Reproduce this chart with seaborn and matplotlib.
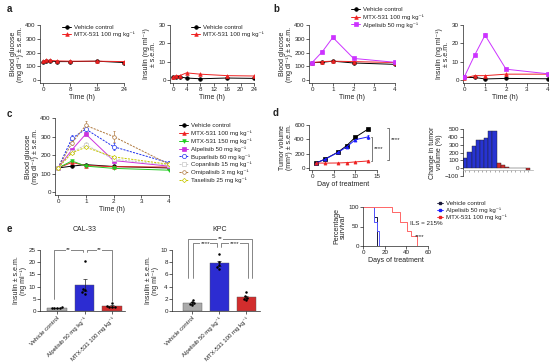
import numpy as np
import pandas as pd
import matplotlib
matplotlib.use("Agg")
import matplotlib.pyplot as plt
import seaborn as sns
from matplotlib.lines import Line2D

# ---------------- data ----------------
lab_vehicle = "Vehicle control"
lab_mtx100 = "MTX-531 100 mg kg⁻¹"
lab_mtx150 = "MTX-531 150 mg kg⁻¹"
lab_alpelisib = "Alpelisib 50 mg kg⁻¹"
lab_buparlisib = "Buparlisib 60 mg kg⁻¹"
lab_copanlisib = "Copanlisib 15 mg kg⁻¹"
lab_omipalisib = "Omipalisib 3 mg kg⁻¹"
lab_taselisib = "Taselisib 25 mg kg⁻¹"

a_time = [0, 1, 2, 4, 8, 16, 24]
a_glu_vehicle = [135, 140, 140, 135, 135, 138, 128]
a_glu_mtx = [138, 145, 145, 140, 138, 138, 135]
a_ins_vehicle = [1.5, 2.0, 1.8, 1.2, 0.8, 1.2, 1.0]
a_ins_mtx = [1.8, 2.5, 2.5, 4.0, 3.3, 2.5, 2.3]

b_time = [0, 0.5, 1, 2, 4]
b_glu_vehicle = [128, 130, 138, 125, 115]
b_glu_mtx = [128, 135, 138, 135, 128]
b_glu_alpelisib = [128, 208, 310, 158, 130]
b_glu_alpelisib_sem = [4, 8, 8, 6, 5]
b_ins_vehicle = [1.5, 1.5, 0.7, 1.0, 0.8]
b_ins_mtx = [1.2, 2.5, 2.5, 3.3, 3.3]
b_ins_alpelisib = [1.5, 13.5, 24.5, 6.0, 3.5]
b_ins_alpelisib_sem = [0.3, 0.6, 1.0, 0.5, 0.3]

c_time = [0, 0.5, 1, 2, 4]
c_vehicle = [130, 140, 148, 138, 130]
c_mtx100 = [130, 160, 143, 137, 135]
c_mtx150 = [130, 168, 140, 128, 118]
c_alpelisib = [130, 228, 313, 170, 140]
c_buparlisib = [130, 290, 340, 245, 158]
c_copanlisib = [130, 215, 255, 178, 145]
c_omipalisib = [130, 265, 360, 300, 150]
c_taselisib = [130, 212, 242, 190, 150]
c_buparlisib_sem = [5, 20, 15, 18, 8]
c_omipalisib_sem = [5, 10, 25, 30, 8]
c_copanlisib_sem = [5, 8, 15, 10, 5]

d_day = [1, 3, 6, 8, 10, 13]
d_vehicle = [70, 125, 222, 312, 430, 545]
d_alpelisib = [70, 122, 218, 295, 395, 435]
d_mtx = [70, 68, 70, 75, 85, 98]
d_vehicle_sem = [5, 8, 10, 15, 20, 12]
d_alpelisib_sem = [5, 8, 10, 15, 25, 30]
d_mtx_sem = [3, 3, 3, 4, 5, 8]

wf_values = [130, 210, 285, 355, 355, 385, 480, 480, 70, 45, 20, 2, 2, 1, 1, -20]
wf_group = ["Alpelisib"] * 8 + ["MTX-531"] * 8

surv_vehicle_day = [0, 10, 13]
surv_vehicle_pct = [100, 75, 0]
surv_alpelisib_day = [0, 10, 12.5, 15]
surv_alpelisib_pct = [100, 62.5, 37.5, 0]
surv_mtx_day = [0, 27, 34, 41, 44, 50]
surv_mtx_pct = [100, 87.5, 62.5, 37.5, 25, 0]

e_groups = [lab_vehicle, lab_alpelisib, lab_mtx100]
cal_means = [1.3, 10.8, 2.0]
cal_sem = [0.1, 2.4, 0.3]
cal_dots_vehicle = [1.1, 1.3, 1.4, 1.2, 1.5]
cal_dots_alpelisib = [20.3, 9.2, 8.5, 7.6, 7.0]
cal_dots_mtx = [3.3, 2.0, 1.8, 1.6, 1.5]
kpc_means = [1.3, 7.8, 2.3]
kpc_sem = [0.15, 0.4, 0.2]
kpc_dots_vehicle = [1.8, 1.5, 1.3, 1.1, 1.0]
kpc_dots_alpelisib = [9.4, 8.0, 7.6, 7.2, 6.9]
kpc_dots_mtx = [3.1, 2.5, 2.2, 2.0, 1.8]

# ---------------- style ----------------
sns.set_theme(style="ticks")
plt.rcParams.update({
    "font.family": ["Liberation Sans", "DejaVu Sans"],
    "mathtext.default": "regular",
    "font.size": 4.5, "axes.labelsize": 5, "xtick.labelsize": 4.5,
    "ytick.labelsize": 4.5, "legend.fontsize": 4.4,
    "axes.linewidth": 0.5, "xtick.major.width": 0.5, "ytick.major.width": 0.5,
    "xtick.major.size": 2, "ytick.major.size": 2,
    "xtick.major.pad": 1, "ytick.major.pad": 1, "axes.labelpad": 1.0,
    "text.color": "#222222", "axes.edgecolor": "#222222",
    "axes.labelcolor": "#222222", "xtick.color": "#222222", "ytick.color": "#222222",
})

W, H = 554, 364
fig = plt.figure(figsize=(W / 100, H / 100), dpi=100)


def axpx(x0, y0, x1, y1):
    ax = fig.add_axes([x0 / W, 1 - y1 / H, (x1 - x0) / W, (y1 - y0) / H])
    ax.set_facecolor("none")
    sns.despine(ax=ax)
    return ax


def line(ax, x, y, color, marker, label, ls="-", open_=False, sem=None, ms=2.6):
    sns.lineplot(x=x, y=y, color=color, marker=marker, markersize=ms,
                 linewidth=0.7, linestyle=ls,
                 markerfacecolor="white" if open_ else color,
                 markeredgecolor=color, markeredgewidth=0.5,
                 label=label, ax=ax, zorder=3)
    if sem is not None:
        ax.errorbar(x, y, yerr=sem, fmt="none", ecolor=color, elinewidth=0.5,
                    capsize=1, capthick=0.5, zorder=2)


def legend(ax, xpx, ypx, handles=None, spacing=0.25, hl=1.5):
    h, l = ax.get_legend_handles_labels()
    if handles is not None:
        h = handles
    ax.legend(h, l, loc="upper left", bbox_to_anchor=(xpx / W, 1 - ypx / H),
              bbox_transform=fig.transFigure, frameon=False, handlelength=hl,
              handletextpad=0.5, labelspacing=spacing, borderaxespad=0, borderpad=0)


def nolegend(ax):
    if ax.get_legend() is not None:
        ax.get_legend().remove()


def panel(x, y, s):
    fig.text(x / W, 1 - y / H, s, fontsize=7, fontweight="bold", va="center", ha="left")


def ylab(ax, text):
    ax.set_ylabel(text, linespacing=1.0)


glu_label = "Blood glucose\n(mg dl⁻¹) ± s.e.m."
ins_label = "Insulin (ng ml⁻¹)\n± s.e.m."

# ---------------- a ----------------
panel(7, 9, "a")
ax = axpx(40, 25, 124, 83)
line(ax, a_time, a_glu_vehicle, "black", "o", lab_vehicle)
line(ax, a_time, a_glu_mtx, "#ee2222", "^", lab_mtx100)
ax.set(xlim=(-0.9, 24), ylim=(-20, 400), xticks=[0, 8, 16, 24], yticks=[0, 100, 200, 300, 400],
       xlabel="Time (h)")
ylab(ax, glu_label)
legend(ax, 62, 25)

ax = axpx(170, 25, 254, 83)
line(ax, a_time, a_ins_vehicle, "black", "o", lab_vehicle)
line(ax, a_time, a_ins_mtx, "#ee2222", "^", lab_mtx100)
ax.set(xlim=(-0.9, 24), ylim=(-1.5, 30), xticks=[0, 4, 8, 12, 16, 20, 24], yticks=[0, 10, 20, 30],
       xlabel="Time (h)")
ylab(ax, ins_label)
legend(ax, 191, 25)

# ---------------- b ----------------
panel(273, 9, "b")
ax = axpx(309, 25, 395, 83)
line(ax, b_time, b_glu_vehicle, "black", "o", lab_vehicle)
line(ax, b_time, b_glu_mtx, "#ee2222", "^", lab_mtx100)
line(ax, b_time, b_glu_alpelisib, "#cc33ff", "s", lab_alpelisib, sem=b_glu_alpelisib_sem, ms=2.2)
ax.set(xlim=(-0.15, 4), ylim=(-20, 400), xticks=[0, 1, 2, 3, 4], yticks=[0, 100, 200, 300, 400],
       xlabel="Time (h)")
ylab(ax, glu_label)
legend(ax, 351, 7, spacing=0.35)

ax = axpx(463, 25, 548, 83)
line(ax, b_time, b_ins_vehicle, "black", "o", lab_vehicle)
line(ax, b_time, b_ins_mtx, "#ee2222", "^", lab_mtx100)
line(ax, b_time, b_ins_alpelisib, "#cc33ff", "s", lab_alpelisib, sem=b_ins_alpelisib_sem, ms=2.2)
ax.set(xlim=(-0.05, 4), ylim=(-1.5, 30), xticks=[0, 1, 2, 3, 4], yticks=[0, 10, 20, 30],
       xlabel="Time (h)")
ylab(ax, ins_label)
nolegend(ax)

# ---------------- c ----------------
panel(7, 114, "c")
ax = axpx(55, 118, 169, 195)
dash = (0, (2.2, 1.2))
line(ax, c_time, c_vehicle, "black", "o", lab_vehicle)
line(ax, c_time, c_mtx100, "#ee2222", "^", lab_mtx100)
line(ax, c_time, c_mtx150, "#22cc22", "v", lab_mtx150)
line(ax, c_time, c_alpelisib, "#cc33dd", "s", lab_alpelisib, ms=2.2)
line(ax, c_time, c_buparlisib, "#2233ee", "o", lab_buparlisib, ls=dash, open_=True, sem=c_buparlisib_sem, ms=3)
line(ax, c_time, c_copanlisib, "#c8c8c8", "s", lab_copanlisib, ls=dash, open_=True, sem=c_copanlisib_sem)
line(ax, c_time, c_omipalisib, "#b07a40", "o", lab_omipalisib, ls=dash, open_=True, sem=c_omipalisib_sem)
line(ax, c_time, c_taselisib, "#c8c800", "D", lab_taselisib, ls=dash, open_=True, ms=2.2)
ax.set(xlim=(-0.11, 4), ylim=(-16, 400), xticks=[0, 1, 2, 3, 4], yticks=[0, 100, 200, 300, 400],
       xlabel="Time (h)")
ylab(ax, glu_label)
legend(ax, 179, 123, spacing=0.38)

# ---------------- d ----------------
panel(273, 113, "d")
ax = axpx(309, 125, 377, 170)
line(ax, d_day, d_vehicle, "black", "s", lab_vehicle, sem=d_vehicle_sem, ms=2.2)
line(ax, d_day, d_alpelisib, "#1a1aff", "^", lab_alpelisib, sem=d_alpelisib_sem, ms=2.2)
line(ax, d_day, d_mtx, "#ee2222", "^", lab_mtx100, sem=d_mtx_sem, ms=2.2)
nolegend(ax)
ax.set(xlim=(-0.7, 15), ylim=(-28, 600), xticks=[0, 5, 10, 15], yticks=[0, 200, 400, 600],
       xlabel="Day of treatment")
ylab(ax, "Tumor volume\n(mm³) ± s.e.m.")
for (bx, y0, y1, ty) in [(13.9, 98, 435, 265), (17.8, 110, 555, 400)]:
    ax.plot([bx - 0.4, bx, bx, bx - 0.4], [y0, y0, y1, y1], color="#444444", lw=0.5, clip_on=False)
    ax.text(bx + 0.3, ty, "****", fontsize=4.5, va="center", ha="left")

ax = axpx(463, 129, 533, 176)
sns.barplot(x=list(range(len(wf_values))), y=wf_values, hue=wf_group,
            palette={"Alpelisib": "#0a1aee", "MTX-531": "#ee1111"}, dodge=False,
            width=1.0, edgecolor="#222222", linewidth=0.3, legend=False, ax=ax)
ax.set(xlim=(-0.55, 16.2), ylim=(-100, 500), yticks=[-100, 0, 100, 200, 300, 400, 500])
ylab(ax, "Change in tumor\nvolume (%)")
ax.spines["bottom"].set_position(("data", -25))
ax.spines["bottom"].set_color("#aaaaaa")
ax.tick_params(axis="x", labelbottom=False, length=1.2, color="#888888")

ax = axpx(363, 207, 428, 246)
sns.lineplot(x=surv_vehicle_day, y=surv_vehicle_pct, color="#1a1a3a", linewidth=0.7,
             drawstyle="steps-post", label=lab_vehicle, ax=ax)
sns.lineplot(x=surv_alpelisib_day, y=surv_alpelisib_pct, color="#5555ff", linewidth=0.7,
             drawstyle="steps-post", label=lab_alpelisib, ax=ax)
sns.lineplot(x=surv_mtx_day, y=surv_mtx_pct, color="#ff6666", linewidth=0.7,
             drawstyle="steps-post", label=lab_mtx100, ax=ax)
ax.set(xlim=(0, 60), ylim=(0, 100), xticks=[0, 20, 40, 60], yticks=[0, 50, 100],
       xlabel="Days of treatment")
ylab(ax, "Percentage\nsurvival")
ax.text(43, 57, "ILS = 215%", fontsize=4.5, ha="left", va="center")
ax.text(48, 23, "****", fontsize=4.5, ha="left", va="center")
markers = [Line2D([], [], color=c, marker="s", ms=2, lw=0.6) for c in ["#1a1a3a", "#1a1aff", "#ee2222"]]
legend(ax, 437, 201, handles=markers, hl=1.0)

# ---------------- e ----------------
panel(7, 229, "e")
bar_pal = {lab_vehicle: "#aaaaaa", lab_alpelisib: "#1010ee", lab_mtx100: "#ee1111"}


def insulin_bars(ax, means, sems, dots, ymax, yticks, title, title_y):
    sns.barplot(x=e_groups, y=means, hue=e_groups, palette=bar_pal, order=e_groups,
                width=0.7, edgecolor="#555555", linewidth=0.3, legend=False, ax=ax)
    ax.errorbar([0, 1, 2], means, yerr=sems, fmt="none", ecolor="#222222",
                elinewidth=0.5, capsize=1.5, capthick=0.5, zorder=4)
    xs = [g for g, d in zip(e_groups, dots) for _ in d]
    ys = [v for d in dots for v in d]
    sns.swarmplot(x=xs, y=ys, order=e_groups, color="black", size=1.8, ax=ax, zorder=5)
    ax.set(ylim=(0, ymax), yticks=yticks, xlabel="")
    ylab(ax, "Insulin ± s.e.m.\n(ng ml⁻¹)")
    ax.set_xticks([0, 1, 2])
    ax.set_xticklabels(e_groups, rotation=45, ha="right", rotation_mode="anchor", fontsize=4.3)
    ax.tick_params(axis="x", pad=1.5)
    ax.text(1, title_y, title, fontsize=5, ha="center", va="center", clip_on=False)


def bracket(ax, x0, x1, ytop, yl, yr, txt):
    ax.plot([x0, x0, x1, x1], [yl, ytop, ytop, yr], color="#555555", lw=0.5, clip_on=False)
    ax.text((x0 + x1) / 2, ytop, txt, fontsize=4.5, ha="center", va="center",
            bbox=dict(facecolor="white", edgecolor="none", pad=0.3), clip_on=False)


ax = axpx(40, 250, 125, 311)
insulin_bars(ax, cal_means, cal_sem, [cal_dots_vehicle, cal_dots_alpelisib, cal_dots_mtx],
             25, [0, 5, 10, 15, 20, 25], "CAL-33", 33.5)
ax.set_xlim(-0.62, 2.47)
bracket(ax, -0.11, 0.95, 25, 5, 24, "**")
bracket(ax, 1.09, 2.0, 25, 24, 4, "**")

ax = axpx(172, 250, 260, 311)
insulin_bars(ax, kpc_means, kpc_sem, [kpc_dots_vehicle, kpc_dots_alpelisib, kpc_dots_mtx],
             10, [0, 2, 4, 6, 8, 10], "KPC", 13.3)
ax.set_xlim(-0.74, 2.5)
bracket(ax, -0.15, 2.22, 11.8, 5.4, 5.4, "**")
bracket(ax, 0.04, 0.93, 11.1, 5.4, 10.5, "****")
bracket(ax, 1.07, 2.04, 11.1, 10.5, 5.4, "****")

fig.savefig("out.png", dpi=100)
